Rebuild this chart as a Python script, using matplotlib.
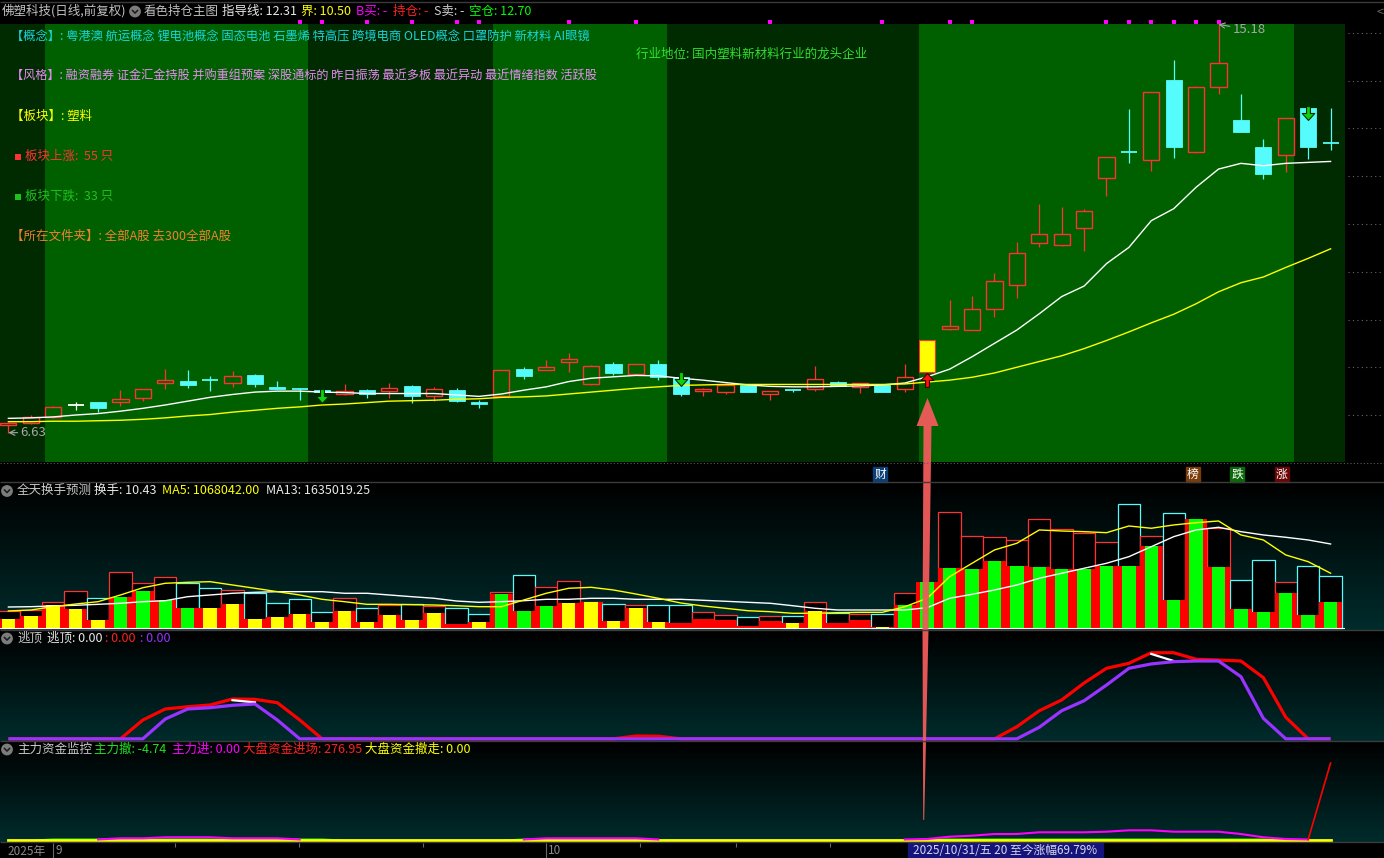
import numpy as np
import matplotlib
matplotlib.use('Agg')
import matplotlib.pyplot as plt
from matplotlib.patches import Rectangle, Polygon, Circle
from matplotlib.path import Path
import matplotlib.transforms as mtransforms

plt.rcParams['font.family'] = ['Noto Sans CJK SC', 'DejaVu Sans']
plt.rcParams['font.size'] = 9

# ---------------- data ----------------
opens = [6.80, 6.84, 6.95, 7.20, 7.27, 7.27, 7.35, 7.67, 7.71, 7.74,
         7.66, 7.84, 7.59, 7.55, 7.53, 7.45, 7.52, 7.51, 7.61, 7.39,
         7.52, 7.27, 7.40, 7.97, 7.95, 8.12, 7.64, 8.07, 7.85, 8.07,
         7.79, 7.51, 7.49, 7.63, 7.45, 7.53, 7.54, 7.70, 7.59, 7.64,
         7.54, 7.91, 8.81, 8.79, 9.21, 9.72, 10.61, 10.55, 10.91, 11.96,
         12.51, 12.33, 14.01, 12.50, 13.87, 13.18, 12.61, 12.45, 13.43, 12.71]
highs = [6.84, 7.00, 7.18, 7.27, 7.27, 7.52, 7.55, 7.97, 7.95, 7.82,
         7.92, 7.86, 7.71, 7.57, 7.54, 7.65, 7.54, 7.67, 7.63, 7.59,
         7.57, 7.31, 7.95, 8.01, 8.16, 8.30, 8.05, 8.11, 8.07, 8.16,
         7.90, 7.57, 7.67, 7.64, 7.50, 7.55, 8.03, 7.72, 7.67, 7.65,
         8.07, 8.57, 9.41, 9.50, 9.97, 10.62, 11.42, 11.35, 11.31, 12.41,
         13.41, 13.77, 14.44, 13.88, 15.18, 13.72, 12.78, 13.22, 13.46, 13.43]
lows = [6.63, 6.81, 6.94, 7.11, 7.07, 7.19, 7.30, 7.55, 7.57, 7.51,
        7.59, 7.59, 7.54, 7.32, 7.47, 7.41, 7.36, 7.36, 7.26, 7.30,
        7.28, 7.15, 7.39, 7.76, 7.95, 7.90, 7.63, 7.83, 7.84, 7.74,
        7.40, 7.40, 7.43, 7.48, 7.32, 7.49, 7.50, 7.60, 7.47, 7.48,
        7.49, 7.90, 8.78, 8.78, 9.06, 9.46, 10.52, 10.54, 10.44, 11.59,
        12.28, 12.11, 12.38, 12.49, 13.73, 12.92, 11.95, 12.08, 12.36, 12.55]
closes = [6.83, 6.95, 7.17, 7.20, 7.15, 7.34, 7.55, 7.73, 7.62, 7.73,
          7.81, 7.65, 7.55, 7.54, 7.48, 7.50, 7.43, 7.57, 7.40, 7.55,
          7.30, 7.24, 7.94, 7.82, 8.01, 8.18, 8.02, 7.89, 8.06, 7.79,
          7.43, 7.55, 7.63, 7.49, 7.50, 7.52, 7.75, 7.61, 7.67, 7.49,
          7.79, 8.57, 8.86, 9.21, 9.80, 10.39, 10.78, 10.80, 11.27, 12.40,
          12.50, 13.76, 12.61, 13.87, 14.37, 12.93, 12.04, 13.21, 12.62, 12.70]
ma_white = [6.93, 6.94, 6.96, 7.00, 7.03, 7.08, 7.14, 7.21, 7.29, 7.37,
            7.43, 7.48, 7.50, 7.50, 7.48, 7.47, 7.45, 7.45, 7.45, 7.45,
            7.42, 7.39, 7.44, 7.52, 7.59, 7.70, 7.77, 7.80, 7.83, 7.82,
            7.77, 7.73, 7.68, 7.63, 7.60, 7.59, 7.59, 7.60, 7.61, 7.63,
            7.67, 7.80, 7.96, 8.22, 8.50, 8.78, 9.12, 9.48, 9.70, 10.17,
            10.51, 11.07, 11.32, 11.77, 12.15, 12.27, 12.22, 12.27, 12.29, 12.31]
ma_yellow = [6.86, 6.86, 6.87, 6.87, 6.88, 6.89, 6.91, 6.94, 6.98, 7.01,
             7.06, 7.10, 7.14, 7.17, 7.21, 7.23, 7.26, 7.29, 7.30, 7.31,
             7.33, 7.34, 7.37, 7.38, 7.40, 7.44, 7.48, 7.52, 7.56, 7.59,
             7.62, 7.63, 7.64, 7.64, 7.64, 7.64, 7.64, 7.64, 7.64, 7.64,
             7.65, 7.69, 7.73, 7.79, 7.88, 8.00, 8.12, 8.24, 8.39, 8.56,
             8.74, 8.93, 9.11, 9.33, 9.58, 9.77, 9.89, 10.09, 10.28, 10.48]
highlight_day = 41
green_bands = [(2, 13), (22, 29), (41, 57)]
sell_arrows = [14, 30, 58]
buy_arrows = [41]
top_marks = [13, 14, 16, 18, 20, 21, 25, 28, 34, 39, 42, 43, 49, 50, 51, 52, 53, 54]
price_grid = [7, 8, 9, 10, 11, 12, 13, 14, 15]

# 全天换手预测 (unit: 万)
vol_pred = [33.6, 35.5, 51.6, 72.3, 59.3, 108.6, 87.3, 98.9, 87.3, 78.2,
            74.3, 67.9, 48.5, 56.2, 31.0, 58.8, 38.8, 45.2, 46.5, 43.3,
            40.0, 27.2, 69.8, 102.8, 79.5, 91.2, 51.6, 47.1, 45.2, 45.2,
            45.2, 31.0, 25.2, 21.3, 23.9, 23.9, 51.6, 29.1, 27.2, 27.2,
            67.9, 90.4, 225.0, 178.4, 176.5, 170.7, 211.4, 192.0, 184.3, 166.8,
            241.1, 179.6, 223.0, 211.4, 195.1, 93.7, 132.5, 90.4, 120.8, 100.9]
vol_real = [18.0, 23.9, 45.2, 37.4, 16.1, 61.3, 72.3, 54.9, 39.4, 39.4,
            47.1, 18.0, 21.9, 27.7, 12.2, 33.6, 12.2, 25.8, 16.1, 29.7,
            8.3, 12.2, 67.1, 33.6, 43.3, 49.1, 51.0, 14.2, 39.4, 12.2,
            10.3, 18.0, 16.1, 5.0, 14.2, 10.3, 33.6, 10.3, 16.1, 3.1,
            45.2, 90.4, 117.5, 115.0, 130.5, 120.8, 118.9, 115.0, 115.0, 120.8,
            120.8, 159.6, 54.9, 211.4, 118.9, 37.4, 31.6, 68.5, 25.8, 51.0]
vol_kind = list('YYYYYGGGGYYYYYYYYYYYRYGGGYYYYYRRRRRYYRRY' + 'G' * 20)
vol_ma5 = [33.6, 35.5, 41.9, 47.1, 51.6, 64.6, 78.7, 87.3, 89.2, 90.4,
           84.0, 77.6, 71.0, 64.6, 56.2, 51.6, 46.5, 46.5, 45.8, 45.2,
           43.8, 41.9, 41.9, 54.9, 67.9, 77.6, 79.5, 74.3, 66.5, 58.2,
           49.1, 43.3, 38.8, 34.1, 32.2, 29.1, 29.1, 30.3, 31.0, 31.0,
           41.9, 58.2, 100.1, 126.1, 151.9, 164.9, 190.7, 188.7, 187.4, 185.4,
           198.4, 194.0, 200.4, 204.8, 208.1, 181.0, 171.3, 142.2, 129.2, 106.8]
vol_ma13 = [41.3, 41.9, 43.3, 44.6, 46.5, 48.5, 51.6, 53.5, 61.3, 64.6,
            67.9, 69.8, 71.0, 71.0, 71.0, 67.9, 67.9, 64.6, 61.3, 58.2,
            52.9, 50.4, 51.6, 53.5, 56.2, 56.2, 58.2, 58.2, 56.2, 56.2,
            56.2, 54.3, 52.4, 50.4, 48.5, 43.8, 38.8, 35.5, 35.5, 35.5,
            35.5, 40.0, 58.2, 65.9, 74.3, 84.0, 97.0, 106.7, 116.4, 126.1,
            138.9, 158.3, 177.7, 190.7, 195.9, 187.4, 181.0, 176.5, 171.3, 163.5]

# 逃顶
nan = np.nan
tao_red = [0, 0, 0, 0, 0, 0, 17.3, 27.4, 29.5, 31.1,
           36.6, 36.3, 33.2, 17.3, 0, 0, 0, 0, 0, 0,
           0, 0, 0, 0, 0, 0, 0, 0, 2.6, 2.4,
           0, 0, 0, 0, 0, 0, 0, 0, 0, 0,
           0, 0, 0, 0, 0, 11.1, 25.8, 35.7, 51.3, 64.8,
           69.4, 79.1, 79.1, 73.1, 72.4, 71.5, 56.2, 19.8, 0, 0]
tao_purple = [0, 0, 0, 0, 0, 0, 0, 18.2, 27.4, 28.6,
              30.8, 32.0, 17.3, 0, 0, 0, 0, 0, 0, 0,
              0, 0, 0, 0, 0, 0, 0, 0, 0, 0,
              0, 0, 0, 0, 0, 0, 0, 0, 0, 0,
              0, 0, 0, 0, 0, 0, 10.6, 25.8, 35.0, 49.4,
              64.8, 68.8, 70.9, 71.5, 71.5, 57.1, 18.8, 0, 0, 0]
tao_white = [nan] * 10 + [35.5, 33.5] + [nan] * 39 + [78.0, 71.5] + [nan] * 7

# 主力资金监控
zl_out = [-4.74, -4.74] + [0] * 13 + [-4.74] * 8 + [0] * 6 + [-4.74] * 12 + [0] * 16 + [-4.74] * 3
zl_in = ([0] * 5 + [4.3, 4.3, 8, 8, 8, 4.3, 4.3, 4.3] + [0] * 11 + [4.3] * 5 + [0] * 12 +
         [1.8, 10.1, 13.8, 19.9, 19.9, 26.1, 26.1, 26.1, 28.2, 33.3,
          33.3, 28.2, 28.2, 28.2, 19.9, 8.0, 1.8, 0, 0])
zl_big_in = [0] * 59 + [276.95]
zl_big_out = [0] * 60

n = len(closes)
idx = np.arange(n)

# ---------------- layout ----------------
W, H = 1384, 858
X0, DX = 8.4, 22.41      # pixel x of the first candle, candle spacing
PR = 1345                # right edge of the plotting area
XL = ((0 - X0) / DX, (PR - X0) / DX)

fig = plt.figure(figsize=(W / 100, H / 100), dpi=100, facecolor='black')


def box(x0, y0, x1, y1):
    return [x0 / W, 1 - y1 / H, (x1 - x0) / W, (y1 - y0) / H]


def clean(a):
    a.set_xticks([])
    a.set_yticks([])
    for s in a.spines.values():
        s.set_visible(False)


def only_active(vals):
    # hide the flat zero stretches so the line underneath stays visible
    v = np.asarray(vals, dtype=float)
    nz = v != 0
    keep = nz | np.r_[nz[1:], False] | np.r_[False, nz[:-1]]
    return np.where(keep, v, np.nan)


bg = fig.add_axes([0, 0, 1, 1], zorder=0)
bg.axis('off')
grad = np.linspace(0, 1, 120)[:, None, None] * np.array([0.0, 0.17, 0.17])[None, None, :]
for y0, y1 in [(482, 630), (630, 741), (741, 842)]:
    bg.imshow(grad, extent=(0, W, y1, y0), aspect='auto', origin='upper', interpolation='bilinear')
bg.set_xlim(0, W)
bg.set_ylim(H, 0)

# ---------------- main price panel ----------------
ax = fig.add_axes(box(0, 24, PR, 462), zorder=2)
ax.set_facecolor('#002a00')
clean(ax)
ax.set_xlim(*XL)
ax.set_ylim(6.016, 15.188)
for s, e in green_bands:
    ax.axvspan(s - 0.37, e + 0.37, color='#006000', lw=0, zorder=0)

RED, CYAN = '#ff3232', '#54fcfc'
bw = 0.72
for i in range(n):
    o, h, l, c = opens[i], highs[i], lows[i], closes[i]
    top, bot = max(o, c), min(o, c)
    if i == highlight_day:
        ax.add_patch(Rectangle((i - bw / 2, bot), bw, top - bot, fc='#ffff00', ec=RED, lw=0.8, zorder=3))
        continue
    if abs(c - o) < 0.015:
        col = 'white' if c == o else (RED if c > o else CYAN)
        ax.vlines(i, l, h, color=col, lw=0.9, zorder=3)
        ax.hlines(c, i - bw / 2, i + bw / 2, color=col, lw=1.3, zorder=3)
    elif c > o:
        ax.vlines(i, top, h, color=RED, lw=0.9, zorder=3)
        ax.vlines(i, l, bot, color=RED, lw=0.9, zorder=3)
        ax.add_patch(Rectangle((i - bw / 2, bot), bw, top - bot, fc='none', ec=RED, lw=1.0, zorder=3))
    else:
        ax.vlines(i, l, h, color=CYAN, lw=0.9, zorder=3)
        ax.add_patch(Rectangle((i - bw / 2, bot), bw, top - bot, fc=CYAN, ec=CYAN, lw=0.6, zorder=3))

ax.plot(idx, ma_white, color='white', lw=1.0, zorder=4)
ax.plot(idx, ma_yellow, color='#ffff00', lw=1.0, zorder=4)

down_arrow = Path([(-0.14, 0.5), (0.14, 0.5), (0.14, 0.0), (0.45, 0.0), (0.0, -0.5),
                   (-0.45, 0.0), (-0.14, 0.0), (-0.14, 0.5)], closed=True)
up_arrow = Path([(x, -y) for x, y in down_arrow.vertices], closed=True)
off_dn = mtransforms.offset_copy(ax.transData, fig=fig, y=-6.5, units='dots')
off_up = mtransforms.offset_copy(ax.transData, fig=fig, y=-7.5, units='dots')
for i in sell_arrows:
    ax.plot(i, highs[i], marker=down_arrow, ms=10, mfc='#10d010', mec='#003000', mew=0.8,
            transform=off_dn, zorder=6)
for i in buy_arrows:
    ax.plot(i, lows[i], marker=up_arrow, ms=10, mfc='#ff1010', mec='#400000', mew=0.8,
            transform=off_up, zorder=6)

hi = int(np.argmax(highs))
lo = int(np.argmin(lows))
ax.annotate(f'{highs[hi]:.2f}', xy=(hi, highs[hi]), xytext=(14, -5.5), textcoords='offset pixels',
            color='#a8a8a8', fontsize=9.5, va='center', ha='left', annotation_clip=False,
            arrowprops=dict(arrowstyle='->', color='#a8a8a8', lw=0.8, shrinkA=0, shrinkB=0), zorder=7)
ax.annotate(f'{lows[lo]:.2f}', xy=(lo, lows[lo]), xytext=(12, 0), textcoords='offset pixels',
            color='#a8a8a8', fontsize=9.5, va='center', ha='left', annotation_clip=False,
            arrowprops=dict(arrowstyle='->', color='#a8a8a8', lw=0.8, shrinkA=0, shrinkB=0), zorder=7)

# right column dotted price grid
axr = fig.add_axes(box(PR, 24, W, 462), zorder=2)
axr.set_facecolor('black')
clean(axr)
axr.set_xlim(0, 1)
axr.set_ylim(6.016, 15.188)
axr.hlines(price_grid, 0.08, 1, color='#6a6a6a', lw=0.8, linestyles=(0, (1, 3)))

# top strip markers
axt = fig.add_axes(box(0, 0, PR, 24), zorder=2)
axt.set_facecolor('none')
clean(axt)
axt.set_xlim(*XL)
axt.set_ylim(24, 0)
axt.plot(top_marks, [22.3] * len(top_marks), 's', ms=2.6, color='#ff00ff', mew=0)

# ---------------- volume panel ----------------
axv = fig.add_axes(box(0, 482, PR, 630), zorder=2)
axv.set_facecolor('none')
clean(axv)
axv.set_xlim(*XL)
axv.set_ylim(-3.3, 283.7)
kind_col = {'Y': '#ffff00', 'G': '#00ff00', 'R': '#ff0000'}
for i in range(n):
    oc = RED if closes[i] >= opens[i] else CYAN
    if vol_pred[i] > vol_real[i]:
        axv.add_patch(Rectangle((i - 0.5, 0), 1.0, vol_pred[i], fc='black', ec=oc, lw=0.9, zorder=2))
for i in range(n):
    axv.add_patch(Rectangle((i - 0.5, 0), 1.0, vol_real[i], fc='#ff0000', lw=0, zorder=3))
    axv.add_patch(Rectangle((i - 0.3, 0), 0.6, vol_real[i], fc=kind_col[vol_kind[i]], lw=0, zorder=3))
axv.plot(idx, vol_ma13, color='white', lw=1.0, zorder=4)
axv.plot(idx, vol_ma5, color='#ffff00', lw=1.0, zorder=4)
axv.axhline(0, color='white', lw=0.8, zorder=4)

# ---------------- 逃顶 panel ----------------
axe = fig.add_axes(box(0, 630, PR, 741), zorder=2)
axe.set_facecolor('none')
clean(axe)
axe.set_xlim(*XL)
axe.set_ylim(-2, 100)
axe.plot(idx, tao_red, color='#ff0000', lw=2.3, solid_capstyle='butt')
axe.plot(idx, tao_white, color='white', lw=1.6)
axe.plot(idx, tao_purple, color='#9933ff', lw=2.3, solid_capstyle='butt')

# ---------------- 主力资金监控 panel ----------------
axz = fig.add_axes(box(0, 741, PR, 842), zorder=2)
axz.set_facecolor('none')
clean(axz)
axz.set_xlim(*XL)
axz.set_ylim(-9.05, 356.6)
axz.plot(idx, zl_out, color='#00e000', lw=1.6)
axz.plot(idx, zl_big_out, color='#ffff00', lw=2.0)
axz.plot(idx, only_active(zl_in), color='#ff00ff', lw=1.5)
axz.plot(idx, only_active(zl_big_in), color='#ff0000', lw=1.2)

# ---------------- overlay: texts, separators, arrow ----------------
ov = fig.add_axes([0, 0, 1, 1], zorder=20)
ov.set_facecolor('none')
ov.axis('off')
ov.set_xlim(0, W)
ov.set_ylim(H, 0)

ov.hlines([482, 630, 741, 842], 0, W, color='#3c3c3c', lw=1.0)
ov.hlines([1.5], 0, W, color='#3a3a3a', lw=1.0)
ov.hlines([462.5], 0, W, color='#5a5a5a', lw=0.8, linestyles=(0, (1, 2)))


def t(x, y, s, c, fs=9):
    ov.text(x, y, s, color=c, fontsize=fs, va='center', ha='left')


def icon(x, y):
    ov.add_patch(Circle((x, y), 5.2, color='#7c7c7c'))
    ov.plot([x - 2.5, x, x + 2.5], [y - 1.0, y + 1.6, y - 1.0], color='#1a1a1a', lw=1.1)


# title row
t(2, 11, '佛塑科技(日线,前复权)', '#c0c0c0')
icon(135, 11.5)
t(144, 11, '看色持仓主图', '#c0c0c0')
t(222, 11, '指导线: 12.31', '#e8e8e8')
t(301, 11, '界: 10.50', '#ffff00')
t(356, 11, 'B买: -', '#ff00ff')
t(393, 11, '持仓: -', '#ff2020')
t(434, 11, 'S卖: -', '#d0d0d0')
t(469, 11, '空仓: 12.70', '#00ff00')
ov.text(1380, 12, '<', color='#6a6a6a', fontsize=9, va='center', ha='center')

# info block
t(11, 36, '【概念】: 粤港澳 航运概念 锂电池概念 固态电池 石墨烯 特高压 跨境电商 OLED概念 口罩防护 新材料 AI眼镜', '#19d3da', 8.85)
t(11, 75.5, '【风格】: 融资融券 证金汇金持股 并购重组预案 深股通标的 昨日振荡 最近多板 最近异动 最近情绪指数 活跃股', '#e68cf0', 8.75)
t(11, 116, '【板块】: 塑料', '#ffff00')
ov.plot(18, 156.5, 's', ms=4.2, color='#ff3333', mew=0)
t(25, 156, '板块上涨:  55 只', '#ff3333')
ov.plot(18, 197, 's', ms=4.2, color='#1fc01f', mew=0)
t(25, 196.5, '板块下跌:  33 只', '#1fc01f')
t(11, 236, '【所在文件夹】: 全部A股 去300全部A股', '#f08030')
t(636, 54, '行业地位: 国内塑料新材料行业的龙头企业', '#30e030')

# event tags
for s, xc, fc in [('财', 880, '#0a3f78'), ('榜', 1192.5, '#7a3c08'), ('跌', 1237, '#0a6a0a'), ('涨', 1281.5, '#6a0606')]:
    ov.add_patch(Rectangle((xc - 7, 467), 14, 15, color=fc))
    ov.text(xc, 474.5, s, color='white', fontsize=8.5, va='center', ha='center')

# panel headers
icon(7, 491)
t(17, 490.5, '全天换手预测', '#c8c8c8')
t(94, 490.5, '换手: 10.43', '#e8e8e8')
t(162, 490.5, 'MA5: 1068042.00', '#ffff00')
t(266, 490.5, 'MA13: 1635019.25', '#e8e8e8')

icon(7, 638.5)
t(17, 638, '逃顶', '#c8c8c8')
t(47, 638, '逃顶: 0.00', '#e8e8e8')
t(105, 638, ': 0.00', '#ff2020')
t(140, 638, ': 0.00', '#9933ff')

icon(7, 749.5)
t(17, 749, '主力资金监控', '#c8c8c8')
t(94, 749, '主力撤: -4.74', '#20e020')
t(172, 749, '主力进: 0.00', '#ff00ff')
t(243, 749, '大盘资金进场: 276.95', '#ff2020')
t(365, 749, '大盘资金撤走: 0.00', '#ffff00')

# big annotation arrow
arrow_pts = [(927.5, 398), (938.5, 426), (931.5, 426), (928.5, 630), (924.2, 820),
             (923.2, 820), (922.5, 630), (923.5, 426), (916.5, 426)]
ov.add_patch(Polygon(arrow_pts, closed=True, fc='#f25a5a', ec='none', alpha=0.95))

# bottom time axis
t(7, 851, '2025年', '#8a8a8a', 8.5)
axb = fig.add_axes(box(0, 842, PR, H), zorder=21)
axb.set_facecolor('none')
clean(axb)
axb.set_xlim(*XL)
axb.set_ylim(1, 0)
month_ticks = [1.98, 23.97]
month_labels = ['9', '10']
week_ticks = [7.43, 12.97, 18.5, 28.2, 32.46, 36.68]
axb.vlines(month_ticks, 0.05, 1, color='#6a6a6a', lw=0.8)
axb.vlines(week_ticks, 0.05, 0.3, color='#6a6a6a', lw=0.8)
for p, lab in zip(month_ticks, month_labels):
    axb.text(p + 0.12, 0.56, lab, color='#8a8a8a', fontsize=8.5, va='center', ha='left')

ov.add_patch(Rectangle((908, 843), 195, 15, color='#14147c'))
ov.text(1005.5, 850.5, '2025/10/31/五 20 至今涨幅69.79%', color='#d8d8e8', fontsize=8.5,
        va='center', ha='center')

fig.savefig('out.png', dpi=100, facecolor='black')
